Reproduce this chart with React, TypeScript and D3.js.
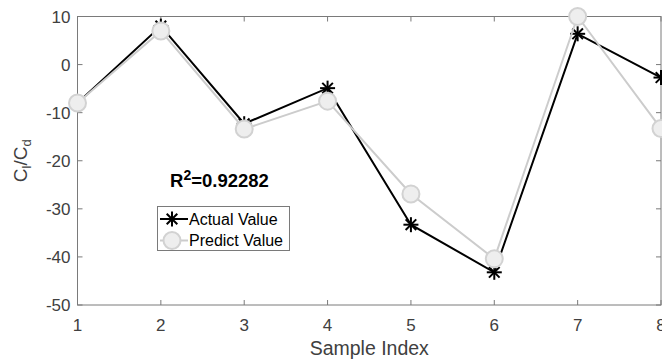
import React from "react";
import * as d3 from "d3";

const sampleIndex = [1, 2, 3, 4, 5, 6, 7, 8];
const actualValues = [-8, 8, -12.3, -4.9, -33.3, -43.2, 6.4, -2.7];
const predictValues = [-8, 7, -13.4, -7.6, -26.9, -40.4, 10, -13.3];
const yTicks = [-50, -40, -30, -20, -10, 0, 10];
const xTicks = [1, 2, 3, 4, 5, 6, 7, 8];

const W = 662, H = 360;
const L = 77.5, R = 661, T = 16.5, B = 305;
const FONT = "'Liberation Sans', Arial, Helvetica, sans-serif";
const AX = "#7a7a7a";
const TXT = "#404040";

function Star({ x, y, r = 7.5 }: { x: number; y: number; r?: number }) {
  const d = r * Math.SQRT1_2;
  return (
    <g stroke="#000" strokeWidth={2}>
      <line x1={x - r} y1={y} x2={x + r} y2={y} />
      <line x1={x} y1={y - r} x2={x} y2={y + r} />
      <line x1={x - d} y1={y - d} x2={x + d} y2={y + d} />
      <line x1={x - d} y1={y + d} x2={x + d} y2={y - d} />
    </g>
  );
}

export default function App() {
  const x = d3.scaleLinear().domain([1, 8]).range([L, R]);
  const y = d3.scaleLinear().domain([-50, 10]).range([B, T]);
  const line = d3
    .line<number>()
    .x((_, i) => x(sampleIndex[i]))
    .y((v) => y(v));
  const tl = 5;
  return (
    <svg
      width={W}
      height={H}
      style={{ position: "fixed", left: 0, top: 0, background: "#fff" }}
      fontFamily={FONT}
    >
      <rect x={0} y={0} width={W} height={H} fill="#fff" />
      {/* axes box */}
      <rect x={L} y={T} width={R - L} height={B - T} fill="none" stroke={AX} strokeWidth={1} />
      {xTicks.map((t) => (
        <g key={"x" + t}>
          <line x1={x(t)} x2={x(t)} y1={B} y2={B - tl} stroke={AX} />
          <line x1={x(t)} x2={x(t)} y1={T} y2={T + tl} stroke={AX} />
          <text x={x(t)} y={331} textAnchor="middle" fontSize={17} fill={TXT}>
            {t}
          </text>
        </g>
      ))}
      {yTicks.map((t) => (
        <g key={"y" + t}>
          <line x1={L} x2={L + tl} y1={y(t)} y2={y(t)} stroke={AX} />
          <line x1={R} x2={R - tl} y1={y(t)} y2={y(t)} stroke={AX} />
          <text x={70.5} y={y(t)} dy="0.36em" textAnchor="end" fontSize={17} fill={TXT}>
            {t}
          </text>
        </g>
      ))}
      <text x={(L + R) / 2} y={355} textAnchor="middle" fontSize={19.5} fill={TXT}>
        Sample Index
      </text>
      <text
        transform={`translate(27,${(T + B) / 2}) rotate(-90)`}
        textAnchor="middle"
        fontSize={19}
        fill={TXT}
      >
        C<tspan fontSize={13} dy={4}>l</tspan>
        <tspan dy={-4}>/C</tspan>
        <tspan fontSize={13} dy={4}>d</tspan>
      </text>

      {/* Actual series */}
      <path d={line(actualValues) || ""} fill="none" stroke="#000" strokeWidth={2} />
      {actualValues.map((v, i) => (
        <Star key={"a" + i} x={x(sampleIndex[i])} y={y(v)} />
      ))}
      {/* Predict series */}
      <path d={line(predictValues) || ""} fill="none" stroke="#cccccc" strokeWidth={2} />
      {predictValues.map((v, i) => (
        <circle
          key={"p" + i}
          cx={x(sampleIndex[i])}
          cy={y(v)}
          r={8.5}
          fill="#eeeeee"
          stroke="#d2d2d2"
          strokeWidth={2}
        />
      ))}

      {/* R^2 annotation */}
      <text x={170} y={187} fontSize={18.5} fontWeight="bold" fill="#000">
        R<tspan fontSize={14} dy={-7}>2</tspan>
        <tspan dy={7}>=0.92282</tspan>
      </text>

      {/* legend */}
      <rect x={157.5} y={206.5} width={132} height={44} fill="#fff" stroke={AX} strokeWidth={1} />
      <line x1={160} x2={188} y1={219} y2={219} stroke="#000" strokeWidth={2} />
      <Star x={172} y={219} />
      <text x={189} y={219} dy="0.36em" fontSize={16} fill="#000">
        Actual Value
      </text>
      <line x1={160} x2={188} y1={240.5} y2={240.5} stroke="#cccccc" strokeWidth={2} />
      <circle cx={172} cy={240.5} r={8.5} fill="#eeeeee" stroke="#d2d2d2" strokeWidth={2} />
      <text x={189} y={240.5} dy="0.36em" fontSize={16} fill="#000">
        Predict Value
      </text>
    </svg>
  );
}
